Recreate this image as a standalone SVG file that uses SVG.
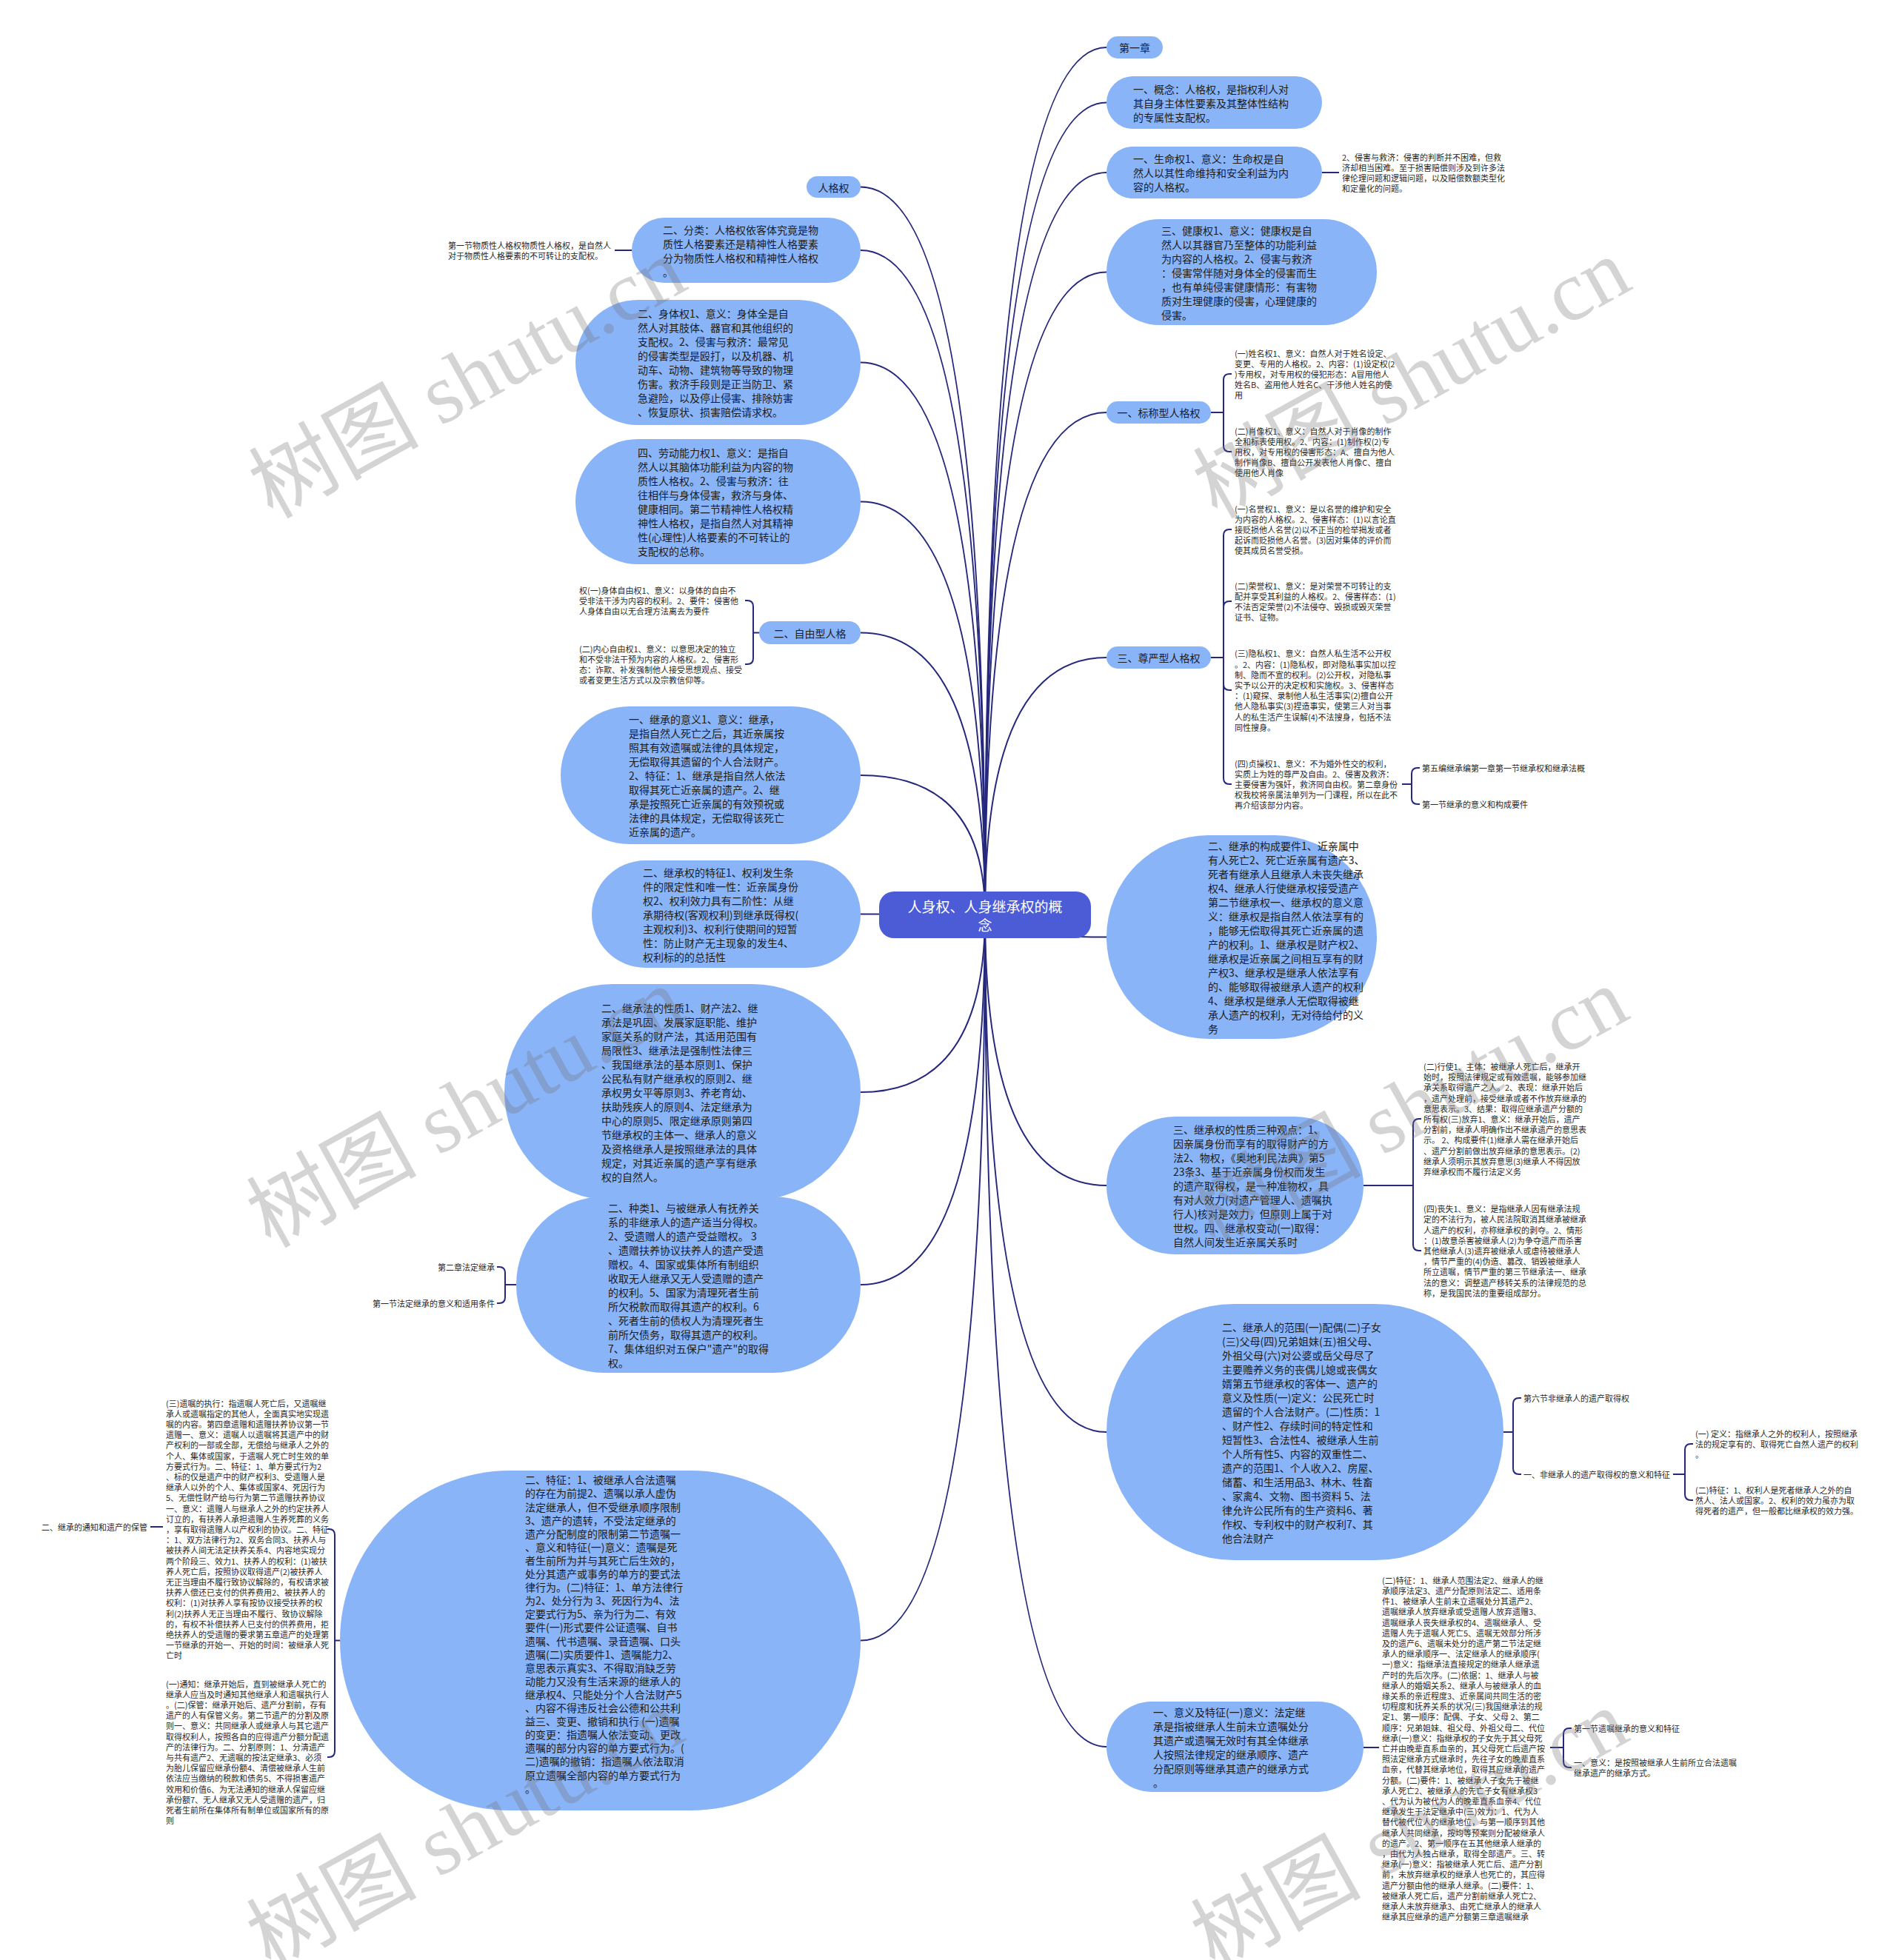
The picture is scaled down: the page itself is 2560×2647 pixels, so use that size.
<svg xmlns="http://www.w3.org/2000/svg" width="2560" height="2647" viewBox="0 0 2560 2647">
<style>
.bg{fill:#ffffff}
.n{fill:#8ab4f8}
.root{fill:#4c5bd6}
.e{fill:none;stroke:#25287c;stroke-width:2}
.b{font-family:"Noto Sans CJK SC","Microsoft YaHei",sans-serif;font-size:14px;fill:#1c1c1c;dominant-baseline:central}
.sm{font-family:"Noto Sans CJK SC","Microsoft YaHei",sans-serif;font-size:11px;fill:#2a2a2a;dominant-baseline:central}
.lb{font-family:"Noto Sans CJK SC","Microsoft YaHei",sans-serif;font-size:14px;fill:#1c1c1c;dominant-baseline:central;text-anchor:middle}
.rt{font-family:"Noto Sans CJK SC","Microsoft YaHei",sans-serif;font-size:19px;fill:#ffffff;dominant-baseline:central;text-anchor:middle}
.wm{font-family:"Liberation Serif","Noto Sans CJK SC",serif;font-size:115px;fill:#6f6f6f;fill-opacity:0.3}
</style>
<rect class="bg" x="0" y="0" width="2560" height="2647"/>

<g id="connectors">
<path class="e" d="M1330,1235 Q1330,64 1494,64"/>
<path class="e" d="M1330,1235 Q1330,138.5 1494,138.5"/>
<path class="e" d="M1330,1235 Q1330,233 1494,233"/>
<path class="e" d="M1330,1235 Q1330,367.5 1494,367.5"/>
<path class="e" d="M1330,1235 Q1330,557 1494,557"/>
<path class="e" d="M1330,1235 Q1330,888 1494,888"/>
<path class="e" d="M1330,1235 Q1330,1265.5 1494,1265.5"/>
<path class="e" d="M1330,1235 Q1330,1601 1494,1601"/>
<path class="e" d="M1330,1235 Q1330,1934 1494,1934"/>
<path class="e" d="M1330,1235 Q1330,2359 1494,2359"/>
<path class="e" d="M1330,1235 Q1330,252.5 1162,252.5"/>
<path class="e" d="M1330,1235 Q1330,338 1162,338"/>
<path class="e" d="M1330,1235 Q1330,489.5 1162,489.5"/>
<path class="e" d="M1330,1235 Q1330,677.5 1162,677.5"/>
<path class="e" d="M1330,1235 Q1330,854.5 1162,854.5"/>
<path class="e" d="M1330,1235 Q1330,1047 1162,1047"/>
<path class="e" d="M1330,1235 Q1330,1234.5 1162,1234.5"/>
<path class="e" d="M1330,1235 Q1330,1475 1162,1475"/>
<path class="e" d="M1330,1235 Q1330,1735 1162,1735"/>
<path class="e" d="M1330,1235 Q1330,2215.5 1162,2215.5"/>
<path class="e" d="M1785,233 H1808"/>
<path class="e" d="M1635,557 H1652 M1652,557 V513 Q1652,505 1660,505 H1663 M1652,557 V602 Q1652,610 1660,610 H1663"/>
<path class="e" d="M1635,888 H1652 M1652,888 V723 Q1652,715 1660,715 H1663 M1652,888 V820 Q1652,812 1660,812 H1663 M1652,888 V924 Q1652,932 1660,932 H1663 M1652,888 V1051 Q1652,1059 1660,1059 H1663"/>
<path class="e" d="M1893,1059 H1906 M1906,1059 V1045 Q1906,1037 1914,1037 H1917 M1906,1059 V1078 Q1906,1086 1914,1086 H1917"/>
<path class="e" d="M1841,1601 H1908 M1908,1601 V1519 Q1908,1511 1916,1511 H1919 M1908,1601 V1681 Q1908,1689 1916,1689 H1919"/>
<path class="e" d="M2030,1934 H2043 M2043,1934 V1896 Q2043,1888 2051,1888 H2054 M2043,1934 V1983 Q2043,1991 2051,1991 H2054"/>
<path class="e" d="M2259,1991 H2275 M2275,1991 V1958 Q2275,1950 2283,1950 H2286 M2275,1991 V2018 Q2275,2026 2283,2026 H2286"/>
<path class="e" d="M1841,2360 H1862"/>
<path class="e" d="M2093,2360 H2111 M2111,2360 V2342 Q2111,2334 2119,2334 H2122 M2111,2360 V2379 Q2111,2387 2119,2387 H2122"/>
<path class="e" d="M853,338 H830"/>
<path class="e" d="M1025,854.5 H1017 M1017,854.5 V819 Q1017,811 1009,811 H1006 M1017,854.5 V889 Q1017,897 1009,897 H1006"/>
<path class="e" d="M697,1735 H682 M682,1735 V1719 Q682,1711 674,1711 H671 M682,1735 V1752 Q682,1760 674,1760 H671"/>
<path class="e" d="M459,2215.5 H452 M452,2215.5 V2073 Q452,2065 444,2065 H442 M452,2215.5 V2365 Q452,2373 444,2373 H442"/>
<path class="e" d="M220,2062 H203"/>
</g>

<g id="n-root">
<rect class="root" x="1187" y="1204" width="286" height="63" rx="20"/>
<text class="rt" x="1330" y="1223">人身权、人身继承权的概</text>
<text class="rt" x="1330" y="1248">念</text>
</g>

<g id="n-r1">
<rect class="n" x="1494" y="49" width="76" height="30" rx="15"/>
<text class="lb" x="1532" y="64">第一章</text>
</g>

<g id="n-r2">
<rect class="n" x="1494" y="103" width="291" height="71" rx="35.5"/>
<text class="b" y="119.5"><tspan x="1530">一、概念：人格权，是指权利人对</tspan><tspan x="1530" dy="19">其自身主体性要素及其整体性结构</tspan><tspan x="1530" dy="19">的专属性支配权。</tspan></text>
</g>

<g id="n-r3">
<rect class="n" x="1494" y="198" width="291" height="70" rx="35"/>
<text class="b" y="214"><tspan x="1530">一、生命权1、意义：生命权是自</tspan><tspan x="1530" dy="19">然人以其性命维持和安全利益为内</tspan><tspan x="1530" dy="19">容的人格权。</tspan></text>
</g>

<g id="n-r3c">
<text class="sm" y="211.7"><tspan x="1812">2、侵害与救济：侵害的判断并不困难，但救</tspan><tspan x="1812" dy="14.2">济却相当困难。至于损害赔偿则涉及到许多法</tspan><tspan x="1812" dy="14.2">律伦理问题和逻辑问题，以及赔偿数额类型化</tspan><tspan x="1812" dy="14.2">和定量化的问题。</tspan></text>
</g>

<g id="n-r4">
<rect class="n" x="1494" y="296" width="365" height="143" rx="71.5"/>
<text class="b" y="310.5"><tspan x="1568">三、健康权1、意义：健康权是自</tspan><tspan x="1568" dy="19">然人以其器官乃至整体的功能利益</tspan><tspan x="1568" dy="19">为内容的人格权。2、侵害与救济</tspan><tspan x="1568" dy="19">：侵害常伴随对身体全的侵害而生</tspan><tspan x="1568" dy="19">，也有单纯侵害健康情形：有害物</tspan><tspan x="1568" dy="19">质对生理健康的侵害，心理健康的</tspan><tspan x="1568" dy="19">侵害。</tspan></text>
</g>

<g id="n-r5">
<rect class="n" x="1494" y="542" width="141" height="30" rx="15"/>
<text class="lb" x="1564.5" y="557">一、标称型人格权</text>
</g>
<g id="n-r5a">
<text class="sm" y="476.6"><tspan x="1667">(一)姓名权1、意义：自然人对于姓名设定、</tspan><tspan x="1667" dy="14.2">变更、专用的人格权。2、内容：(1)设定权(2</tspan><tspan x="1667" dy="14.2">)专用权，对专用权的侵犯形态：A冒用他人</tspan><tspan x="1667" dy="14.2">姓名B、盗用他人姓名C、干涉他人姓名的使</tspan><tspan x="1667" dy="14.2">用</tspan></text>
</g>
<g id="n-r5b">
<text class="sm" y="581.6"><tspan x="1667">(二)肖像权1、意义：自然人对于肖像的制作</tspan><tspan x="1667" dy="14.2">全和标表使用权。2、内容：(1)制作权(2)专</tspan><tspan x="1667" dy="14.2">用权，对专用权的侵害形态：A、擅自为他人</tspan><tspan x="1667" dy="14.2">制作肖像B、擅自公开发表他人肖像C、擅自</tspan><tspan x="1667" dy="14.2">使用他人肖像</tspan></text>
</g>

<g id="n-r6">
<rect class="n" x="1494" y="873" width="141" height="30" rx="15"/>
<text class="lb" x="1564.5" y="888">三、尊严型人格权</text>
</g>
<g id="n-r6a">
<text class="sm" y="686.6"><tspan x="1667">(一)名誉权1、意义：是以名誉的维护和安全</tspan><tspan x="1667" dy="14.2">为内容的人格权。2、侵害样态：(1)以言论直</tspan><tspan x="1667" dy="14.2">接贬损他人名誉(2)以不正当的检举揭发或者</tspan><tspan x="1667" dy="14.2">起诉而贬损他人名誉。(3)因对集体的评价而</tspan><tspan x="1667" dy="14.2">使其成员名誉受损。</tspan></text>
</g>
<g id="n-r6b">
<text class="sm" y="790.7"><tspan x="1667">(二)荣誉权1、意义：是对荣誉不可转让的支</tspan><tspan x="1667" dy="14.2">配并享受其利益的人格权。2、侵害样态：(1)</tspan><tspan x="1667" dy="14.2">不法否定荣誉(2)不法侵夺、毁损或毁灭荣誉</tspan><tspan x="1667" dy="14.2">证书、证物。</tspan></text>
</g>
<g id="n-r6c">
<text class="sm" y="882.3"><tspan x="1667">(三)隐私权1、意义：自然人私生活不公开权</tspan><tspan x="1667" dy="14.2">。2、内容：(1)隐私权，即对隐私事实加以控</tspan><tspan x="1667" dy="14.2">制、隐而不宣的权利。(2)公开权，对隐私事</tspan><tspan x="1667" dy="14.2">实予以公开的决定权和实施权。3、侵害样态</tspan><tspan x="1667" dy="14.2">：(1)窥探、录制他人私生活事实(2)擅自公开</tspan><tspan x="1667" dy="14.2">他人隐私事实(3)捏造事实，使第三人对当事</tspan><tspan x="1667" dy="14.2">人的私生活产生误解(4)不法搜身，包括不法</tspan><tspan x="1667" dy="14.2">同性搜身。</tspan></text>
</g>
<g id="n-r6d">
<text class="sm" y="1030.6"><tspan x="1667">(四)贞操权1、意义：不为婚外性交的权利，</tspan><tspan x="1667" dy="14.2">实质上为姓的尊严及自由。2、侵害及救济：</tspan><tspan x="1667" dy="14.2">主要侵害为强奸，救济同自由权。第二章身份</tspan><tspan x="1667" dy="14.2">权我校将亲属法单列为一门课程，所以在此不</tspan><tspan x="1667" dy="14.2">再介绍该部分内容。</tspan></text>
</g>
<g id="n-r6d1"><text class="sm" x="1920" y="1037">第五编继承编第一章第一节继承权和继承法概</text></g>
<g id="n-r6d2"><text class="sm" x="1920" y="1086">第一节继承的意义和构成要件</text></g>

<g id="n-r7">
<rect class="n" x="1494" y="1128" width="365" height="275" rx="137.5"/>
<text class="b" y="1142"><tspan x="1631">二、继承的构成要件1、近亲属中</tspan><tspan x="1631" dy="19">有人死亡2、死亡近亲属有遗产3、</tspan><tspan x="1631" dy="19">死者有继承人且继承人未丧失继承</tspan><tspan x="1631" dy="19">权4、继承人行使继承权接受遗产</tspan><tspan x="1631" dy="19">第二节继承权一、继承权的意义意</tspan><tspan x="1631" dy="19">义：继承权是指自然人依法享有的</tspan><tspan x="1631" dy="19">，能够无偿取得其死亡近亲属的遗</tspan><tspan x="1631" dy="19">产的权利。1、继承权是财产权2、</tspan><tspan x="1631" dy="19">继承权是近亲属之间相互享有的财</tspan><tspan x="1631" dy="19">产权3、继承权是继承人依法享有</tspan><tspan x="1631" dy="19">的、能够取得被继承人遗产的权利</tspan><tspan x="1631" dy="19">4、继承权是继承人无偿取得被继</tspan><tspan x="1631" dy="19">承人遗产的权利，无对待给付的义</tspan><tspan x="1631" dy="19">务</tspan></text>
</g>

<g id="n-r8">
<rect class="n" x="1494" y="1508" width="347" height="186" rx="93"/>
<text class="b" y="1525"><tspan x="1584">三、继承权的性质三种观点：1、</tspan><tspan x="1584" dy="19">因亲属身份而享有的取得财产的方</tspan><tspan x="1584" dy="19">法2、物权，《奥地利民法典》第5</tspan><tspan x="1584" dy="19">23条3、基于近亲属身份权而发生</tspan><tspan x="1584" dy="19">的遗产取得权，是一种准物权，具</tspan><tspan x="1584" dy="19">有对人效力(对遗产管理人、遗嘱执</tspan><tspan x="1584" dy="19">行人)核对是效力，但原则上属于对</tspan><tspan x="1584" dy="19">世权。四、继承权变动(一)取得：</tspan><tspan x="1584" dy="19">自然人间发生近亲属关系时</tspan></text>
</g>
<g id="n-r8a">
<text class="sm" y="1440"><tspan x="1922">(二)行使1、主体：被继承人死亡后，继承开</tspan><tspan x="1922" dy="14.2">始时，按照法律规定或有效遗嘱，能够参加继</tspan><tspan x="1922" dy="14.2">承关系取得遗产之人。2、表现：继承开始后</tspan><tspan x="1922" dy="14.2">，遗产处理前，接受继承或者不作放弃继承的</tspan><tspan x="1922" dy="14.2">意思表示。3、结果：取得应继承遗产分额的</tspan><tspan x="1922" dy="14.2">所有权(三)放弃1、意义：继承开始后，遗产</tspan><tspan x="1922" dy="14.2">分割前，继承人明确作出不继承遗产的意思表</tspan><tspan x="1922" dy="14.2">示。 2、构成要件(1)继承人需在继承开始后</tspan><tspan x="1922" dy="14.2">、遗产分割前做出放弃继承的意思表示。(2)</tspan><tspan x="1922" dy="14.2">继承人须明示其放弃意思(3)继承人不得因放</tspan><tspan x="1922" dy="14.2">弃继承权而不履行法定义务</tspan></text>
</g>
<g id="n-r8b">
<text class="sm" y="1632.2"><tspan x="1922">(四)丧失1、意义：是指继承人因有继承法规</tspan><tspan x="1922" dy="14.2">定的不法行为，被人民法院取消其继承被继承</tspan><tspan x="1922" dy="14.2">人遗产的权利，亦称继承权的剥夺。2、情形</tspan><tspan x="1922" dy="14.2">：(1)故意杀害被继承人(2)为争夺遗产而杀害</tspan><tspan x="1922" dy="14.2">其他继承人(3)遗弃被继承人或虐待被继承人</tspan><tspan x="1922" dy="14.2">，情节严重的(4)伪造、篡改、销毁被继承人</tspan><tspan x="1922" dy="14.2">所立遗嘱，情节严重的第三节继承法一、继承</tspan><tspan x="1922" dy="14.2">法的意义：调整遗产移转关系的法律规范的总</tspan><tspan x="1922" dy="14.2">称，是我国民法的重要组成部分。</tspan></text>
</g>

<g id="n-r9">
<rect class="n" x="1494" y="1761" width="536" height="346" rx="173"/>
<text class="b" y="1791.5"><tspan x="1650">二、继承人的范围(一)配偶(二)子女</tspan><tspan x="1650" dy="19">(三)父母(四)兄弟姐妹(五)祖父母、</tspan><tspan x="1650" dy="19">外祖父母(六)对公婆或岳父母尽了</tspan><tspan x="1650" dy="19">主要赡养义务的丧偶儿媳或丧偶女</tspan><tspan x="1650" dy="19">婿第五节继承权的客体一、遗产的</tspan><tspan x="1650" dy="19">意义及性质(一)定义：公民死亡时</tspan><tspan x="1650" dy="19">遗留的个人合法财产。(二)性质：1</tspan><tspan x="1650" dy="19">、财产性2、存续时间的特定性和</tspan><tspan x="1650" dy="19">短暂性3、合法性4、被继承人生前</tspan><tspan x="1650" dy="19">个人所有性5、内容的双重性二、</tspan><tspan x="1650" dy="19">遗产的范围1、个人收入2、房屋、</tspan><tspan x="1650" dy="19">储蓄、和生活用品3、林木、牲畜</tspan><tspan x="1650" dy="19">、家禽4、文物、图书资料 5、法</tspan><tspan x="1650" dy="19">律允许公民所有的生产资料6、著</tspan><tspan x="1650" dy="19">作权、专利权中的财产权利7、其</tspan><tspan x="1650" dy="19">他合法财产</tspan></text>
</g>
<g id="n-r9a"><text class="sm" x="2057" y="1888">第六节非继承人的遗产取得权</text></g>
<g id="n-r9b"><text class="sm" x="2057" y="1991">一、非继承人的遗产取得权的意义和特征</text></g>
<g id="n-r9b1">
<text class="sm" y="1935.8"><tspan x="2289">(一) 定义：指继承人之外的权利人，按照继承</tspan><tspan x="2289" dy="14.2">法的规定享有的、取得死亡自然人遗产的权利</tspan><tspan x="2289" dy="14.2">。</tspan></text>
</g>
<g id="n-r9b2">
<text class="sm" y="2011.8"><tspan x="2289">(二)特征：1、权利人是死者继承人之外的自</tspan><tspan x="2289" dy="14.2">然人、法人或国家。2、权利的效力虽亦为取</tspan><tspan x="2289" dy="14.2">得死者的遗产，但一般都比继承权的效力强。</tspan></text>
</g>

<g id="n-r10">
<rect class="n" x="1494" y="2298" width="347" height="122" rx="61"/>
<text class="b" y="2311.5"><tspan x="1557">一、意义及特征(一)意义：法定继</tspan><tspan x="1557" dy="19">承是指被继承人生前未立遗嘱处分</tspan><tspan x="1557" dy="19">其遗产或遗嘱无效时有其全体继承</tspan><tspan x="1557" dy="19">人按照法律规定的继承顺序、遗产</tspan><tspan x="1557" dy="19">分配原则等继承其遗产的继承方式</tspan><tspan x="1557" dy="19">。</tspan></text>
</g>
<g id="n-r10a">
<text class="sm" y="2133.8"><tspan x="1866">(二)特征：1、继承人范围法定2、继承人的继</tspan><tspan x="1866" dy="14.2">承顺序法定3、遗产分配原则法定二、适用条</tspan><tspan x="1866" dy="14.2">件1、被继承人生前未立遗嘱处分其遗产2、</tspan><tspan x="1866" dy="14.2">遗嘱继承人放弃继承或受遗赠人放弃遗赠3、</tspan><tspan x="1866" dy="14.2">遗嘱继承人丧失继承权的4、遗嘱继承人、受</tspan><tspan x="1866" dy="14.2">遗赠人先于遗嘱人死亡5、遗嘱无效部分所涉</tspan><tspan x="1866" dy="14.2">及的遗产6、遗嘱未处分的遗产第二节法定继</tspan><tspan x="1866" dy="14.2">承人的继承顺序一、法定继承人的继承顺序(</tspan><tspan x="1866" dy="14.2">一)意义：指继承法直接规定的继承人继承遗</tspan><tspan x="1866" dy="14.2">产时的先后次序。(二)依据：1、继承人与被</tspan><tspan x="1866" dy="14.2">继承人的婚姻关系2、继承人与被继承人的血</tspan><tspan x="1866" dy="14.2">缘关系的亲近程度3、近亲属间共同生活的密</tspan><tspan x="1866" dy="14.2">切程度和抚养关系的状况(三)我国继承法的规</tspan><tspan x="1866" dy="14.2">定1、第一顺序：配偶、子女、父母 2、第二</tspan><tspan x="1866" dy="14.2">顺序：兄弟姐妹、祖父母、外祖父母二、代位</tspan><tspan x="1866" dy="14.2">继承(一)意义：指继承权的子女先于其父母死</tspan><tspan x="1866" dy="14.2">亡并由晚辈直系血亲的，其父母死亡后遗产按</tspan><tspan x="1866" dy="14.2">照法定继承方式继承时，先往子女的晚辈直系</tspan><tspan x="1866" dy="14.2">血亲，代替其继承地位，取得其应继承的遗产</tspan><tspan x="1866" dy="14.2">分额。(二)要件：1、被继承人子女先于被继</tspan><tspan x="1866" dy="14.2">承人死亡2、被继承人的先亡子女有继承权3</tspan><tspan x="1866" dy="14.2">、代为认为被代为人的晚辈直系血亲4、代位</tspan><tspan x="1866" dy="14.2">继承发生于法定继承中(三)效力：1、代为人</tspan><tspan x="1866" dy="14.2">替代被代位人的继承地位，与第一顺序到其他</tspan><tspan x="1866" dy="14.2">继承人共同继承，按均等预案则分配被继承人</tspan><tspan x="1866" dy="14.2">的遗产。2、第一顺序在五其他继承人继承的</tspan><tspan x="1866" dy="14.2">，由代为人独占继承，取得全部遗产。三、转</tspan><tspan x="1866" dy="14.2">继承(一)意义：指被继承人死亡后、遗产分割</tspan><tspan x="1866" dy="14.2">前，未放弃继承权的继承人也死亡的，其应得</tspan><tspan x="1866" dy="14.2">遗产分额由他的继承人继承。(二)要件：1、</tspan><tspan x="1866" dy="14.2">被继承人死亡后，遗产分割前继承人死亡2、</tspan><tspan x="1866" dy="14.2">继承人未放弃继承3、由死亡继承人的继承人</tspan><tspan x="1866" dy="14.2">继承其应继承的遗产分额第三章遗嘱继承</tspan></text>
</g>
<g id="n-r10a1"><text class="sm" x="2125" y="2334">第一节遗嘱继承的意义和特征</text></g>
<g id="n-r10a2">
<text class="sm" y="2379.9"><tspan x="2125">一、意义：是按照被继承人生前所立合法遗嘱</tspan><tspan x="2125" dy="14.2">继承遗产的继承方式。</tspan></text>
</g>

<g id="n-l1">
<rect class="n" x="1089" y="238" width="73" height="29" rx="14.5"/>
<text class="lb" x="1125.5" y="252.5">人格权</text>
</g>

<g id="n-l2">
<rect class="n" x="853" y="294" width="309" height="88" rx="44"/>
<text class="b" y="309.5"><tspan x="895">二、分类：人格权依客体究竟是物</tspan><tspan x="895" dy="19">质性人格要素还是精神性人格要素</tspan><tspan x="895" dy="19">分为物质性人格权和精神性人格权</tspan><tspan x="895" dy="19">。</tspan></text>
</g>
<g id="n-l2a">
<text class="sm" y="330.9"><tspan x="605">第一节物质性人格权物质性人格权，是自然人</tspan><tspan x="605" dy="14.2">对于物质性人格要素的不可转让的支配权。</tspan></text>
</g>

<g id="n-l3">
<rect class="n" x="777" y="405" width="385" height="169" rx="84.5"/>
<text class="b" y="423"><tspan x="861">二、身体权1、意义：身体全是自</tspan><tspan x="861" dy="19">然人对其肢体、器官和其他组织的</tspan><tspan x="861" dy="19">支配权。2、侵害与救济：最常见</tspan><tspan x="861" dy="19">的侵害类型是殴打，以及机器、机</tspan><tspan x="861" dy="19">动车、动物、建筑物等导致的物理</tspan><tspan x="861" dy="19">伤害。救济手段则是正当防卫、紧</tspan><tspan x="861" dy="19">急避险，以及停止侵害、排除妨害</tspan><tspan x="861" dy="19">、恢复原状、损害赔偿请求权。</tspan></text>
</g>

<g id="n-l4">
<rect class="n" x="777" y="593" width="385" height="169" rx="84.5"/>
<text class="b" y="611"><tspan x="861">四、劳动能力权1、意义：是指自</tspan><tspan x="861" dy="19">然人以其脑体功能利益为内容的物</tspan><tspan x="861" dy="19">质性人格权。2、侵害与救济：往</tspan><tspan x="861" dy="19">往相伴与身体侵害，救济与身体、</tspan><tspan x="861" dy="19">健康相同。第二节精神性人格权精</tspan><tspan x="861" dy="19">神性人格权，是指自然人对其精神</tspan><tspan x="861" dy="19">性(心理性)人格要素的不可转让的</tspan><tspan x="861" dy="19">支配权的总称。</tspan></text>
</g>

<g id="n-l5">
<rect class="n" x="1025" y="839" width="137" height="31" rx="15.5"/>
<text class="lb" x="1093.5" y="854.5">二、自由型人格</text>
</g>
<g id="n-l5a">
<text class="sm" y="796.8"><tspan x="782">权(一)身体自由权1、意义：以身体的自由不</tspan><tspan x="782" dy="14.2">受非法干涉为内容的权利。2、要件：侵害他</tspan><tspan x="782" dy="14.2">人身体自由以无合理方法离去为要件</tspan></text>
</g>
<g id="n-l5b">
<text class="sm" y="875.7"><tspan x="782">(二)内心自由权1、意义：以意思决定的独立</tspan><tspan x="782" dy="14.2">和不受非法干预为内容的人格权。2、侵害形</tspan><tspan x="782" dy="14.2">态：诈欺、补发强制他人接受思想观点、接受</tspan><tspan x="782" dy="14.2">或者变更生活方式以及宗教信仰等。</tspan></text>
</g>

<g id="n-l6">
<rect class="n" x="757" y="954" width="405" height="186" rx="93"/>
<text class="b" y="971"><tspan x="849">一、继承的意义1、意义：继承，</tspan><tspan x="849" dy="19">是指自然人死亡之后，其近亲属按</tspan><tspan x="849" dy="19">照其有效遗嘱或法律的具体规定，</tspan><tspan x="849" dy="19">无偿取得其遗留的个人合法财产。</tspan><tspan x="849" dy="19">2、特征：1、继承是指自然人依法</tspan><tspan x="849" dy="19">取得其死亡近亲属的遗产。2、继</tspan><tspan x="849" dy="19">承是按照死亡近亲属的有效预祝或</tspan><tspan x="849" dy="19">法律的具体规定，无偿取得该死亡</tspan><tspan x="849" dy="19">近亲属的遗产。</tspan></text>
</g>

<g id="n-l7">
<rect class="n" x="799" y="1162" width="363" height="145" rx="72.5"/>
<text class="b" y="1177.5"><tspan x="868">二、继承权的特征1、权利发生条</tspan><tspan x="868" dy="19">件的限定性和唯一性：近亲属身份</tspan><tspan x="868" dy="19">权2、权利效力具有二阶性：从继</tspan><tspan x="868" dy="19">承期待权(客观权利)到继承既得权(</tspan><tspan x="868" dy="19">主观权利)3、权利行使期间的短暂</tspan><tspan x="868" dy="19">性：防止财产无主现象的发生4、</tspan><tspan x="868" dy="19">权利标的的总括性</tspan></text>
</g>

<g id="n-l8">
<rect class="n" x="681" y="1329" width="481" height="292" rx="146"/>
<text class="b" y="1361"><tspan x="812">二、继承法的性质1、财产法2、继</tspan><tspan x="812" dy="19">承法是巩固、发展家庭职能、维护</tspan><tspan x="812" dy="19">家庭关系的财产法，其适用范围有</tspan><tspan x="812" dy="19">局限性3、继承法是强制性法律三</tspan><tspan x="812" dy="19">、我国继承法的基本原则1、保护</tspan><tspan x="812" dy="19">公民私有财产继承权的原则2、继</tspan><tspan x="812" dy="19">承权男女平等原则3、养老育幼、</tspan><tspan x="812" dy="19">扶助残疾人的原则4、法定继承为</tspan><tspan x="812" dy="19">中心的原则5、限定继承原则第四</tspan><tspan x="812" dy="19">节继承权的主体一、继承人的意义</tspan><tspan x="812" dy="19">及资格继承人是按照继承法的具体</tspan><tspan x="812" dy="19">规定，对其近亲属的遗产享有继承</tspan><tspan x="812" dy="19">权的自然人。</tspan></text>
</g>

<g id="n-l9">
<rect class="n" x="697" y="1616" width="465" height="238" rx="119"/>
<text class="b" y="1630.5"><tspan x="821">二、种类1、与被继承人有抚养关</tspan><tspan x="821" dy="19">系的非继承人的遗产适当分得权。</tspan><tspan x="821" dy="19">2、受遗赠人的遗产受益赠权。 3</tspan><tspan x="821" dy="19">、遗赠扶养协议扶养人的遗产受遗</tspan><tspan x="821" dy="19">赠权。4、国家或集体所有制组织</tspan><tspan x="821" dy="19">收取无人继承又无人受遗赠的遗产</tspan><tspan x="821" dy="19">的权利。5、国家为清理死者生前</tspan><tspan x="821" dy="19">所欠税款而取得其遗产的权利。6</tspan><tspan x="821" dy="19">、死者生前的债权人为清理死者生</tspan><tspan x="821" dy="19">前所欠债务，取得其遗产的权利。</tspan><tspan x="821" dy="19">7、集体组织对五保户"遗产"的取得</tspan><tspan x="821" dy="19">权。</tspan></text>
</g>
<g id="n-l9a"><text class="sm" x="668" y="1711" text-anchor="end">第二章法定继承</text></g>
<g id="n-l9b"><text class="sm" x="668" y="1760" text-anchor="end">第一节法定继承的意义和适用条件</text></g>

<g id="n-l10">
<rect class="n" x="459" y="1986" width="703" height="459" rx="229.5"/>
<text class="b" y="1998.3"><tspan x="709">二、特征：1、被继承人合法遗嘱</tspan><tspan x="709" dy="18.1">的存在为前提2、遗嘱以承人虚伪</tspan><tspan x="709" dy="18.1">法定继承人，但不受继承顺序限制</tspan><tspan x="709" dy="18.1">3、遗产的遗转，不受法定继承的</tspan><tspan x="709" dy="18.1">遗产分配制度的限制第二节遗嘱一</tspan><tspan x="709" dy="18.1">、意义和特征(一)意义：遗嘱是死</tspan><tspan x="709" dy="18.1">者生前所为并与其死亡后生效的，</tspan><tspan x="709" dy="18.1">处分其遗产或事务的单方的要式法</tspan><tspan x="709" dy="18.1">律行为。(二)特征：1、单方法律行</tspan><tspan x="709" dy="18.1">为2、处分行为 3、死因行为4、法</tspan><tspan x="709" dy="18.1">定要式行为5、亲为行为二、有效</tspan><tspan x="709" dy="18.1">要件(一)形式要件公证遗嘱、自书</tspan><tspan x="709" dy="18.1">遗嘱、代书遗嘱、录音遗嘱、口头</tspan><tspan x="709" dy="18.1">遗嘱(二)实质要件1、遗嘱能力2、</tspan><tspan x="709" dy="18.1">意思表示真实3、不得取消缺乏劳</tspan><tspan x="709" dy="18.1">动能力又没有生活来源的继承人的</tspan><tspan x="709" dy="18.1">继承权4、只能处分个人合法财产5</tspan><tspan x="709" dy="18.1">、内容不得违反社会公德和公共利</tspan><tspan x="709" dy="18.1">益三、变更、撤销和执行 (一)遗嘱</tspan><tspan x="709" dy="18.1">的变更：指遗嘱人依法变动、更改</tspan><tspan x="709" dy="18.1">遗嘱的部分内容的单方要式行为。(</tspan><tspan x="709" dy="18.1">二)遗嘱的撤销：指遗嘱人依法取消</tspan><tspan x="709" dy="18.1">原立遗嘱全部内容的单方要式行为</tspan><tspan x="709" dy="18.1">。</tspan></text>
</g>
<g id="n-l10a">
<text class="sm" y="1894.6"><tspan x="224">(三)遗嘱的执行：指遗嘱人死亡后，又遗嘱继</tspan><tspan x="224" dy="14.2">承人或遗嘱指定的其他人，全面真实地实现遗</tspan><tspan x="224" dy="14.2">嘱的内容。第四章遗赠和遗赠扶养协议第一节</tspan><tspan x="224" dy="14.2">遗赠一、意义：遗嘱人以遗嘱将其遗产中的财</tspan><tspan x="224" dy="14.2">产权利的一部或全部，无偿给与继承人之外的</tspan><tspan x="224" dy="14.2">个人、集体或国家，于遗嘱人死亡时生效的单</tspan><tspan x="224" dy="14.2">方要式行为。二、特征：1、单方要式行为2</tspan><tspan x="224" dy="14.2">、标的仅是遗产中的财产权利3、受遗赠人是</tspan><tspan x="224" dy="14.2">继承人以外的个人、集体或国家4、死因行为</tspan><tspan x="224" dy="14.2">5、无偿性财产给与行为第二节遗赠扶养协议</tspan><tspan x="224" dy="14.2">一、意义：遗赠人与继承人之外的约定扶养人</tspan><tspan x="224" dy="14.2">订立的，有扶养人承担遗赠人生养死葬的义务</tspan><tspan x="224" dy="14.2">，享有取得遗赠人以产权利的协议。二、特征</tspan><tspan x="224" dy="14.2">：1、双方法律行为2、双务合同3、扶养人与</tspan><tspan x="224" dy="14.2">被扶养人间无法定扶养关系4、内容地实现分</tspan><tspan x="224" dy="14.2">两个阶段三、效力1、扶养人的权利：(1)被扶</tspan><tspan x="224" dy="14.2">养人死亡后，按照协议取得遗产(2)被扶养人</tspan><tspan x="224" dy="14.2">无正当理由不履行致协议解除的，有权请求被</tspan><tspan x="224" dy="14.2">扶养人偿还已支付的供养费用2、被扶养人的</tspan><tspan x="224" dy="14.2">权利：(1)对扶养人享有按协议接受扶养的权</tspan><tspan x="224" dy="14.2">利(2)扶养人无正当理由不履行、致协议解除</tspan><tspan x="224" dy="14.2">的，有权不补偿扶养人已支付的供养费用，拒</tspan><tspan x="224" dy="14.2">绝扶养人的受遗赠的要求第五章遗产的处理第</tspan><tspan x="224" dy="14.2">一节继承的开始一、开始的时间：被继承人死</tspan><tspan x="224" dy="14.2">亡时</tspan></text>
</g>
<g id="n-l10b">
<text class="sm" y="2273.6"><tspan x="224">(一)通知：继承开始后，直到被继承人死亡的</tspan><tspan x="224" dy="14.2">继承人应当及时通知其他继承人和遗嘱执行人</tspan><tspan x="224" dy="14.2">。(二)保管：继承开始后、遗产分割前，存有</tspan><tspan x="224" dy="14.2">遗产的人有保管义务。第二节遗产的分割及原</tspan><tspan x="224" dy="14.2">则一、意义：共同继承人或继承人与其它遗产</tspan><tspan x="224" dy="14.2">取得权利人，按照各自的应得遗产分额分配遗</tspan><tspan x="224" dy="14.2">产的法律行为。二、分割原则：1、分清遗产</tspan><tspan x="224" dy="14.2">与共有遗产2、无遗嘱的按法定继承3、必须</tspan><tspan x="224" dy="14.2">为胎儿保留应继承份额4、清偿被继承人生前</tspan><tspan x="224" dy="14.2">依法应当缴纳的税款和债务5、不得损害遗产</tspan><tspan x="224" dy="14.2">效用和价值6、为无法通知的继承人保留应继</tspan><tspan x="224" dy="14.2">承份额7、无人继承又无人受遗赠的遗产，归</tspan><tspan x="224" dy="14.2">死者生前所在集体所有制单位或国家所有的原</tspan><tspan x="224" dy="14.2">则</tspan></text>
</g>
<g id="n-l10a1"><text class="sm" x="199" y="2062" text-anchor="end">二、继承的通知和遗产的保管</text></g>

<g id="watermarks">
<text class="wm" text-anchor="middle" transform="translate(650,545) rotate(-29)">树图 shutu.cn</text>
<text class="wm" text-anchor="middle" transform="translate(1925,545) rotate(-29)">树图 shutu.cn</text>
<text class="wm" text-anchor="middle" transform="translate(647,1530) rotate(-29)">树图 shutu.cn</text>
<text class="wm" text-anchor="middle" transform="translate(1922,1530) rotate(-29)">树图 shutu.cn</text>
<text class="wm" text-anchor="middle" transform="translate(647,2505) rotate(-29)">树图 shutu.cn</text>
<text class="wm" text-anchor="middle" transform="translate(1922,2505) rotate(-29)">树图 shutu.cn</text>
</g>
</svg>
